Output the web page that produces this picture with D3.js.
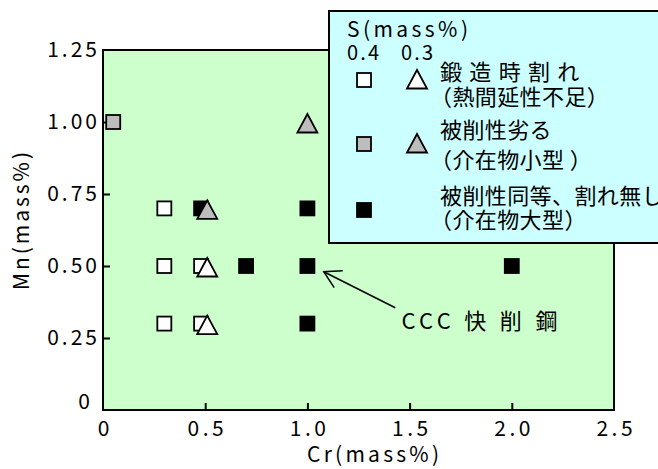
<!DOCTYPE html>
<html>
<head>
<meta charset="utf-8">
<script src="https://cdn.jsdelivr.net/npm/d3@7"></script>
<style>
  body { margin: 0; background: #ffffff; }
  svg { display: block; }
  text { font-family: "Noto Sans CJK JP", "Noto Sans", sans-serif; fill: #000; }
</style>
</head>
<body>
<svg id="chart" width="658" height="469"></svg>
<script>
// ---- axis ticks ----
const xTickValues = [0, 0.5, 1.0, 1.5, 2.0, 2.5];
const xTickLabels = ["0", "0.5", "1.0", "1.5", "2.0", "2.5"];
const yTickValues = [0, 0.25, 0.5, 0.75, 1.0, 1.25];
const yTickLabels = ["0", "0.25", "0.50", "0.75", "1.00", "1.25"];

// ---- S = 0.4 mass% steels (squares) ----
const squareCr    = [0.30, 0.30, 0.30, 0.48, 0.48, 0.05, 0.48, 0.70, 1.00, 1.00, 1.00, 2.00];
const squareMn    = [0.70, 0.50, 0.30, 0.50, 0.30, 1.00, 0.70, 0.50, 0.70, 0.50, 0.30, 0.50];
const squareClass = ["crack", "crack", "crack", "crack", "crack", "poor",
                     "good", "good", "good", "good", "good", "good"];

// ---- S = 0.3 mass% steels (triangles) ----
const triangleCr    = [0.51, 0.51, 0.51, 1.00];
const triangleMn    = [0.50, 0.30, 0.70, 1.00];
const triangleClass = ["crack", "crack", "poor", "poor"];

// ---- result classes ----
const classKeys   = ["crack", "poor", "good"];
const classFills  = ["#ffffff", "#bdbdbd", "#000000"];
const classLine1  = ["鍛 造 時 割 れ", "被削性劣る", "被削性同等、割れ無し"];
const classLine2  = ["（熱間延性不足）", "（介在物小型 ）", "（介在物大型）"];

// ---- annotation ----
const noteText  = "CCC 快 削 鋼";
const noteAt    = [1.46, 0.28];   // text anchor (Cr, Mn)
const noteTail  = [1.43, 0.355];  // arrow start (Cr, Mn)
const noteTip   = [1.08, 0.48];   // arrow tip  (Cr, Mn)

const svg = d3.select("#chart");
const plot = { left: 103, right: 614, top: 50, bottom: 410 };

const x = d3.scaleLinear().domain([0, 2.5]).range([plot.left, plot.right]);
const y = d3.scaleLinear().domain([0, 1.25]).range([plot.bottom, plot.top]);
const fillOf = d3.scaleOrdinal().domain(classKeys).range(classFills);

// plot area
svg.append("rect")
  .attr("x", plot.left).attr("y", plot.top)
  .attr("width", plot.right - plot.left).attr("height", plot.bottom - plot.top)
  .attr("fill", "#ccffcc").attr("stroke", "#000").attr("stroke-width", 2);

// x axis: inward ticks
const xAxis = svg.append("g")
  .attr("transform", `translate(0,${plot.bottom})`)
  .call(d3.axisBottom(x).tickValues(xTickValues)
    .tickFormat((d, i) => xTickLabels[i])
    .tickSizeInner(-7).tickSizeOuter(0).tickPadding(11));
xAxis.select(".domain").remove();
xAxis.selectAll(".tick line").attr("stroke", "#000").attr("stroke-width", 2)
  .filter(d => d === 0 || d === 2.5).remove();
xAxis.selectAll(".tick text")
  .attr("font-size", 21).attr("letter-spacing", 3.5).attr("dx", 1.75)
  .attr("font-family", "Noto Sans CJK JP");

// y axis: inward ticks
const yAxis = svg.append("g")
  .attr("transform", `translate(${plot.left},0)`)
  .call(d3.axisLeft(y).tickValues(yTickValues)
    .tickFormat((d, i) => yTickLabels[i])
    .tickSizeInner(-7).tickSizeOuter(0).tickPadding(3));
yAxis.select(".domain").remove();
yAxis.selectAll(".tick line").attr("stroke", "#000").attr("stroke-width", 2)
  .filter(d => d === 0 || d === 1.25).remove();
yAxis.selectAll(".tick text")
  .attr("font-size", 21).attr("letter-spacing", 3)
  .attr("font-family", "Noto Sans CJK JP");
yAxis.selectAll(".tick text").filter(d => d === 0)
  .attr("x", -10).attr("dy", "-0.05em");

// axis titles
svg.append("text")
  .attr("x", 307).attr("y", 462)
  .attr("font-size", 21).attr("textLength", 132).attr("lengthAdjust", "spacing")
  .text("Cr(mass%)");
svg.append("text")
  .attr("transform", "translate(29,290) rotate(-90)")
  .attr("font-size", 21).attr("textLength", 138).attr("lengthAdjust", "spacing")
  .text("Mn(mass%)");

// markers
const sqSize = 14;
svg.append("g").selectAll("rect")
  .data(squareCr.map((c, i) => ({ cr: c, mn: squareMn[i], k: squareClass[i] })))
  .join("rect")
  .attr("x", d => x(d.cr) - sqSize / 2)
  .attr("y", d => y(d.mn) - sqSize / 2)
  .attr("width", sqSize).attr("height", sqSize)
  .attr("fill", d => fillOf(d.k))
  .attr("stroke", "#000").attr("stroke-width", 1.8);

const triPath = (cx, cy) => `M${cx},${cy - 8}L${cx + 10},${cy + 10.5}L${cx - 10},${cy + 10.5}Z`;
svg.append("g").selectAll("path")
  .data(triangleCr.map((c, i) => ({ cr: c, mn: triangleMn[i], k: triangleClass[i] })))
  .join("path")
  .attr("d", d => triPath(x(d.cr), y(d.mn)))
  .attr("fill", d => fillOf(d.k))
  .attr("stroke", "#000").attr("stroke-width", 1.8).attr("stroke-linejoin", "miter");

// annotation arrow with open head
const tail = [x(noteTail[0]), y(noteTail[1])];
const tip = [x(noteTip[0]), y(noteTip[1])];
const ang = Math.atan2(tail[1] - tip[1], tail[0] - tip[0]);
const headLen = 19, headHalf = Math.PI / 6;
const ann = svg.append("g").attr("stroke", "#000").attr("stroke-width", 1.5).attr("fill", "none");
ann.append("line").attr("x1", tail[0]).attr("y1", tail[1]).attr("x2", tip[0]).attr("y2", tip[1]);
ann.append("path").attr("d",
  `M${tip[0] + headLen * Math.cos(ang - headHalf)},${tip[1] + headLen * Math.sin(ang - headHalf)}` +
  `L${tip[0]},${tip[1]}` +
  `L${tip[0] + headLen * Math.cos(ang + headHalf)},${tip[1] + headLen * Math.sin(ang + headHalf)}`);
svg.append("text")
  .attr("x", x(noteAt[0])).attr("y", y(noteAt[1]))
  .attr("font-size", 22).attr("textLength", 156).attr("lengthAdjust", "spacing")
  .text(noteText);

// legend
const lg = svg.append("g");
lg.append("rect")
  .attr("x", 329).attr("y", 11).attr("width", 340).attr("height", 232)
  .attr("fill", "#ccffff").attr("stroke", "#000").attr("stroke-width", 2);
lg.append("text").attr("x", 347).attr("y", 37)
  .attr("font-size", 21).attr("textLength", 121).attr("lengthAdjust", "spacing")
  .text("S(mass%)");
lg.append("text").attr("x", 347).attr("y", 60)
  .attr("font-size", 20).attr("textLength", 32).attr("lengthAdjust", "spacing").text("0.4");
lg.append("text").attr("x", 401).attr("y", 60)
  .attr("font-size", 20).attr("textLength", 32).attr("lengthAdjust", "spacing").text("0.3");

const rowY = [80, 144, 210];      // symbol centres
const line1Y = [80, 138, 204];    // text baselines
const line2Y = [105, 168, 228];
classKeys.forEach((k, i) => {
  lg.append("rect")
    .attr("x", 364 - sqSize / 2).attr("y", rowY[i] - sqSize / 2)
    .attr("width", sqSize).attr("height", sqSize)
    .attr("fill", fillOf(k)).attr("stroke", "#000").attr("stroke-width", 1.8);
  if (k !== "good") {
    lg.append("path").attr("d", triPath(417, rowY[i] - 2))
      .attr("fill", fillOf(k)).attr("stroke", "#000").attr("stroke-width", 1.8);
  }
  lg.append("text").attr("x", 440).attr("y", line1Y[i]).attr("font-size", 22)
    .attr("letter-spacing", k === "crack" ? 1.2 : 0.4)
    .text(classLine1[i]);
  lg.append("text").attr("x", 430).attr("y", line2Y[i]).attr("font-size", 22)
    .attr("letter-spacing", 0.4)
    .text(classLine2[i]);
});
</script>
</body>
</html>
